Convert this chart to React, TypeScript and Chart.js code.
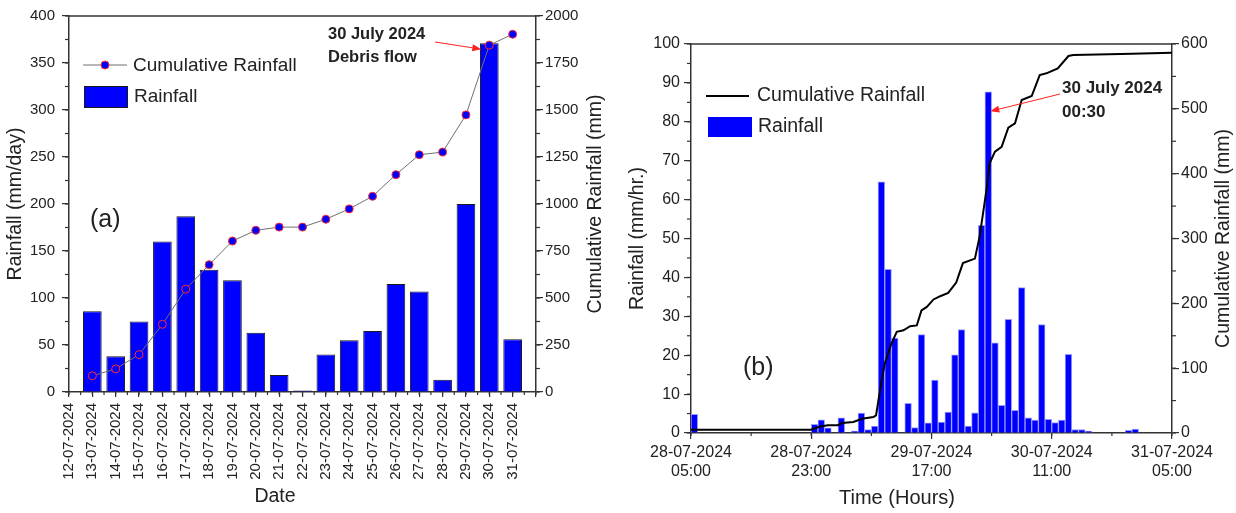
import React, { useEffect, useRef } from 'react';
import { Chart, registerables } from 'chart.js';

Chart.register(...registerables);

const FONT = '"Liberation Sans", Arial, Helvetica, sans-serif';
const TXT = '#222';
const AX = '#333';
const BLUE = '#0000ff';
Chart.defaults.font.family = FONT;
Chart.defaults.color = TXT;

// ---------------- Panel (a): daily rainfall ----------------
const dayNumbers = [13, 14, 15, 16, 17, 18, 19, 20, 21, 22, 23, 24, 25, 26, 27, 28, 29, 30, 31];
const dateTickLabels = [
  '12-07-2024', '13-07-2024', '14-07-2024', '15-07-2024', '16-07-2024', '17-07-2024', '18-07-2024',
  '19-07-2024', '20-07-2024', '21-07-2024', '22-07-2024', '23-07-2024', '24-07-2024', '25-07-2024',
  '26-07-2024', '27-07-2024', '28-07-2024', '29-07-2024', '30-07-2024', '31-07-2024',
];
const dailyRainfall = [86, 38, 75, 160, 187, 130, 119, 63, 18, 1.5, 40, 55, 65, 115, 107, 13, 200, 371, 56];
const dailyCumulative = [86, 123, 199, 360, 547, 677, 803, 860, 877, 877, 919, 974, 1041, 1156, 1262, 1276, 1474, 1845, 1903];

// ---------------- Panel (b): hourly rainfall ----------------
// hours counted from 28-07-2024 05:00
const hourIndex = [0, 18, 19, 20, 22, 24, 25, 26, 27, 28, 29, 30, 32, 33, 34, 35, 36, 37, 38, 39, 40, 41, 42, 43,
  44, 45, 46, 47, 48, 49, 50, 51, 52, 53, 54, 55, 56, 57, 58, 59, 65, 66];
const hourlyRainfall = [4.8, 2.2, 3.4, 1.3, 3.9, 0.5, 5.1, 0.9, 1.8, 64.6, 42.1, 24.4, 7.6, 1.4, 25.3, 2.6, 13.6, 2.8,
  5.4, 20.1, 26.6, 1.8, 5.2, 53.4, 87.7, 23.2, 7.1, 29.2, 5.8, 37.4, 3.9, 3.3, 27.9, 3.5, 2.7, 3.3, 20.2, 0.9, 0.9,
  0.4, 0.7, 1.0];
const cumulativeHours = [0, 18, 19.3, 20.5, 22, 22.6, 24.3, 25.6, 27.3, 27.7, 28.3, 29, 30, 30.8, 31.8, 32.8, 33.8,
  34.5, 35.3, 36.3, 37.3, 38.5, 39.7, 40.7, 42.5, 43.2, 44.3, 44.7, 45.5, 46.5, 47.5, 48.5, 49.5, 51, 52.2, 53.2,
  54.9, 56.5, 57.2, 59, 66, 72];
const hourlyCumulative = [5.2, 5.2, 10, 12, 12, 15.4, 17, 22, 24.7, 27.3, 66, 107, 138, 156, 158.5, 164.7, 166, 189,
  194.5, 206, 211, 216, 232, 262, 269, 302.6, 380, 416, 434, 441.5, 471, 477.6, 513.6, 519.8, 552, 554.8, 562.5,
  581.5, 583, 583.5, 585, 586.6];
const timeTickLabels = [
  ['28-07-2024', '05:00'],
  ['28-07-2024', '23:00'],
  ['29-07-2024', '17:00'],
  ['30-07-2024', '11:00'],
  ['31-07-2024', '05:00'],
];

// ---------------- drawing helpers ----------------
function drawText(ctx: CanvasRenderingContext2D, s: string, x: number, y: number, size: number,
  opts: { bold?: boolean; align?: CanvasTextAlign; rot?: number } = {}) {
  ctx.save();
  ctx.font = `${opts.bold ? 'bold ' : ''}${size}px ${FONT}`;
  ctx.fillStyle = TXT;
  ctx.textAlign = opts.align ?? 'left';
  ctx.textBaseline = 'middle';
  ctx.translate(x, y);
  if (opts.rot) ctx.rotate(opts.rot);
  ctx.fillText(s, 0, 0);
  ctx.restore();
}

function drawMinor(chart: any, id: string, step: number, len: number) {
  const s = chart.scales[id];
  const ctx = chart.ctx as CanvasRenderingContext2D;
  ctx.save();
  ctx.strokeStyle = AX;
  ctx.lineWidth = 1.2;
  for (let v = s.min; v <= s.max + 1e-9; v += step) {
    const p = s.getPixelForValue(v);
    ctx.beginPath();
    if (s.position === 'left') { ctx.moveTo(s.right, p); ctx.lineTo(s.right - len, p); }
    else if (s.position === 'right') { ctx.moveTo(s.left, p); ctx.lineTo(s.left + len, p); }
    else { ctx.moveTo(p, s.top); ctx.lineTo(p, s.top + len); }
    ctx.stroke();
  }
  ctx.restore();
}

function drawTopBorder(chart: any) {
  const ctx = chart.ctx as CanvasRenderingContext2D;
  const ca = chart.chartArea;
  ctx.save();
  ctx.strokeStyle = AX;
  ctx.lineWidth = 1.5;
  ctx.beginPath();
  ctx.moveTo(ca.left, ca.top);
  ctx.lineTo(ca.right, ca.top);
  ctx.stroke();
  ctx.restore();
}

function drawArrow(ctx: CanvasRenderingContext2D, x1: number, y1: number, x2: number, y2: number) {
  const ang = Math.atan2(y2 - y1, x2 - x1);
  const hl = 9, hw = 3.5;
  ctx.save();
  ctx.strokeStyle = '#ff2020';
  ctx.fillStyle = '#ff2020';
  ctx.lineWidth = 1;
  ctx.beginPath();
  ctx.moveTo(x1, y1);
  ctx.lineTo(x2 - hl * Math.cos(ang), y2 - hl * Math.sin(ang));
  ctx.stroke();
  ctx.beginPath();
  ctx.moveTo(x2, y2);
  ctx.lineTo(x2 - hl * Math.cos(ang) + hw * Math.sin(ang), y2 - hl * Math.sin(ang) - hw * Math.cos(ang));
  ctx.lineTo(x2 - hl * Math.cos(ang) - hw * Math.sin(ang), y2 - hl * Math.sin(ang) + hw * Math.cos(ang));
  ctx.closePath();
  ctx.fill();
  ctx.restore();
}

const plainNumber = (v: any) => String(v);

const decorA = {
  id: 'decorA',
  afterDraw(chart: any) {
    const ctx = chart.ctx as CanvasRenderingContext2D;
    const ca = chart.chartArea;
    drawTopBorder(chart);
    drawMinor(chart, 'x', 0.5, 3);
    drawMinor(chart, 'y', 25, 4);
    drawMinor(chart, 'y1', 125, 4);

    // legend
    const lineDs = chart.data.datasets[0];
    const barDs = chart.data.datasets[1];
    const ly = ca.top + 49;
    ctx.save();
    ctx.strokeStyle = lineDs.borderColor;
    ctx.lineWidth = 1;
    ctx.beginPath();
    ctx.moveTo(ca.left + 14, ly);
    ctx.lineTo(ca.left + 58, ly);
    ctx.stroke();
    ctx.beginPath();
    ctx.arc(ca.left + 36, ly, 4, 0, Math.PI * 2);
    ctx.fillStyle = lineDs.pointBackgroundColor;
    ctx.fill();
    ctx.strokeStyle = lineDs.pointBorderColor;
    ctx.stroke();
    ctx.fillStyle = barDs.backgroundColor;
    ctx.fillRect(ca.left + 15, ca.top + 70, 44, 22);
    ctx.strokeStyle = barDs.borderColor;
    ctx.strokeRect(ca.left + 15.5, ca.top + 70.5, 43, 21);
    ctx.restore();
    drawText(ctx, lineDs.label, ca.left + 64, ly + 1, 19);
    drawText(ctx, barDs.label, ca.left + 65, ca.top + 81, 19);

    drawText(ctx, '(a)', ca.left + 21, ca.top + 204, 25);

    // axis titles
    drawText(ctx, 'Rainfall (mm/day)', 16, (ca.top + ca.bottom) / 2, 19.5, { align: 'center', rot: -Math.PI / 2 });
    drawText(ctx, 'Cumulative Rainfall (mm)', 596, (ca.top + ca.bottom) / 2, 19.5, { align: 'center', rot: -Math.PI / 2 });
    drawText(ctx, 'Date', 275, 497, 19.5, { align: 'center' });

    // annotation
    drawText(ctx, '30 July 2024', ca.left + 259, ca.top + 18, 16.5, { bold: true });
    drawText(ctx, 'Debris flow', ca.left + 259, ca.top + 41, 16.5, { bold: true });
    const xs = chart.scales.x, ys = chart.scales.y1;
    const i = dayNumbers.indexOf(30);
    const px = xs.getPixelForValue(dayNumbers[i]);
    const py = ys.getPixelForValue(dailyCumulative[i]);
    drawArrow(ctx, ca.left + 366, ca.top + 26, px - 8, py + 4);
  },
};

const decorB = {
  id: 'decorB',
  afterDraw(chart: any) {
    const ctx = chart.ctx as CanvasRenderingContext2D;
    const ca = chart.chartArea;
    drawTopBorder(chart);
    drawMinor(chart, 'x', 9, 3);
    drawMinor(chart, 'y', 5, 4);
    drawMinor(chart, 'y1', 50, 4);

    const lineDs = chart.data.datasets[0];
    const barDs = chart.data.datasets[1];
    const ly = ca.top + 52;
    ctx.save();
    ctx.strokeStyle = lineDs.borderColor;
    ctx.lineWidth = 2;
    ctx.beginPath();
    ctx.moveTo(ca.left + 15, ly);
    ctx.lineTo(ca.left + 58, ly);
    ctx.stroke();
    ctx.fillStyle = barDs.backgroundColor;
    ctx.fillRect(ca.left + 17, ca.top + 73, 44, 20);
    ctx.restore();
    drawText(ctx, lineDs.label, ca.left + 66, ly, 19.5);
    drawText(ctx, barDs.label, ca.left + 67, ca.top + 83, 19.5);

    drawText(ctx, '(b)', ca.left + 52, 368, 25);

    drawText(ctx, 'Rainfall (mm/hr.)', 20, (ca.top + ca.bottom) / 2, 19.5, { align: 'center', rot: -Math.PI / 2 });
    drawText(ctx, 'Cumulative Rainfall (mm)', 606, (ca.top + ca.bottom) / 2, 19.5, { align: 'center', rot: -Math.PI / 2 });
    drawText(ctx, 'Time (Hours)', 279, 498, 20, { align: 'center' });

    drawText(ctx, '30 July 2024', ca.left + 371, ca.top + 44, 17, { bold: true });
    drawText(ctx, '00:30', ca.left + 371, ca.top + 68.5, 17, { bold: true });
    const xs = chart.scales.x, ys = chart.scales.y;
    const k = hourlyRainfall.indexOf(Math.max(...hourlyRainfall));
    const px = xs.getPixelForValue(hourIndex[k] + 0.5);
    const py = ys.getPixelForValue(hourlyRainfall[k] - 5);
    drawArrow(ctx, ca.left + 369, ca.top + 50, px + 2, py);
  },
};

function PanelA() {
  const ref = useRef<HTMLCanvasElement>(null);
  useEffect(() => {
    const chart = new Chart(ref.current!, {
      type: 'bar',
      data: {
        datasets: [
          {
            type: 'line',
            label: 'Cumulative Rainfall',
            data: dayNumbers.map((d, i) => ({ x: d, y: dailyCumulative[i] })),
            yAxisID: 'y1',
            borderColor: '#707070',
            borderWidth: 1,
            pointRadius: 4,
            pointBackgroundColor: BLUE,
            pointBorderColor: '#ff2a2a',
            pointBorderWidth: 1,
            tension: 0,
            order: 0,
          } as any,
          {
            type: 'bar',
            label: 'Rainfall',
            data: dayNumbers.map((d, i) => ({ x: d, y: dailyRainfall[i] })),
            yAxisID: 'y',
            backgroundColor: BLUE,
            borderColor: '#1a1a1a',
            borderWidth: 1,
            barPercentage: 0.8,
            categoryPercentage: 1,
            order: 1,
          } as any,
        ],
      },
      options: {
        responsive: false,
        animation: false,
        layout: { padding: { top: 14, left: 0, right: 0, bottom: 0 } },
        plugins: { legend: { display: false }, tooltip: { enabled: false } },
        scales: {
          x: {
            type: 'linear',
            min: 12,
            max: 32,
            offset: false,
            grid: { drawOnChartArea: false, offset: false, tickLength: 5, color: AX, lineWidth: 1.2 },
            border: { color: AX, width: 1.5 },
            ticks: {
              stepSize: 1,
              autoSkip: false,
              minRotation: 90,
              maxRotation: 90,
              padding: 6,
              font: { size: 15 },
              color: TXT,
              callback: (v: any) => dateTickLabels[Math.round(v) - 12] ?? '',
            },
            afterFit: (s: any) => { s.height = 121; },
          },
          y: {
            position: 'left',
            min: 0,
            max: 400,
            grid: { drawOnChartArea: false, tickLength: 7, color: AX, lineWidth: 1.2 },
            border: { color: AX, width: 1.5 },
            ticks: { stepSize: 50, padding: 7, font: { size: 15 }, color: TXT, callback: plainNumber },
            afterFit: (s: any) => { s.width = 69; },
          },
          y1: {
            position: 'right',
            min: 0,
            max: 2000,
            grid: { drawOnChartArea: false, tickLength: 7, color: AX, lineWidth: 1.2 },
            border: { color: AX, width: 1.5 },
            ticks: { stepSize: 250, padding: 2, font: { size: 15 }, color: TXT, callback: plainNumber },
            afterFit: (s: any) => { s.width = 82; },
          },
        },
      } as any,
      plugins: [decorA],
    });
    return () => chart.destroy();
  }, []);
  return (
    <canvas ref={ref} width={618} height={513}
      style={{ position: 'absolute', left: 0, top: 0, width: 618, height: 513 }} />
  );
}

function PanelB() {
  const ref = useRef<HTMLCanvasElement>(null);
  useEffect(() => {
    const chart = new Chart(ref.current!, {
      type: 'bar',
      data: {
        datasets: [
          {
            type: 'line',
            label: 'Cumulative Rainfall',
            data: cumulativeHours.map((h, i) => ({ x: h, y: hourlyCumulative[i] })),
            yAxisID: 'y1',
            borderColor: '#000000',
            borderWidth: 2,
            pointRadius: 0,
            tension: 0,
            order: 0,
          } as any,
          {
            type: 'bar',
            label: 'Rainfall',
            data: hourIndex.map((h, i) => ({ x: h + 0.5, y: hourlyRainfall[i] })),
            yAxisID: 'y',
            backgroundColor: BLUE,
            borderColor: '#9a9aff',
            borderWidth: 1,
            barPercentage: 1,
            categoryPercentage: 1,
            order: 1,
          } as any,
        ],
      },
      options: {
        responsive: false,
        animation: false,
        layout: { padding: { top: 44, left: 0, right: 0, bottom: 0 } },
        plugins: { legend: { display: false }, tooltip: { enabled: false } },
        scales: {
          x: {
            type: 'linear',
            min: 0,
            max: 72,
            offset: false,
            grid: { drawOnChartArea: false, offset: false, tickLength: 6, color: AX, lineWidth: 1.2 },
            border: { color: AX, width: 1.5 },
            ticks: {
              stepSize: 18,
              autoSkip: false,
              maxRotation: 0,
              padding: 4,
              font: { size: 16 },
              color: TXT,
              callback: (v: any) => timeTickLabels[Math.round(v / 18)] ?? '',
            },
            afterFit: (s: any) => { s.height = 80; },
          },
          y: {
            position: 'left',
            min: 0,
            max: 100,
            grid: { drawOnChartArea: false, tickLength: 7, color: AX, lineWidth: 1.2 },
            border: { color: AX, width: 1.5 },
            ticks: { stepSize: 10, padding: 4, font: { size: 16 }, color: TXT, callback: plainNumber },
            afterFit: (s: any) => { s.width = 73; },
          },
          y1: {
            position: 'right',
            min: 0,
            max: 600,
            grid: { drawOnChartArea: false, tickLength: 7, color: AX, lineWidth: 1.2 },
            border: { color: AX, width: 1.5 },
            ticks: { stepSize: 100, padding: 2, font: { size: 16 }, color: TXT, callback: plainNumber },
            afterFit: (s: any) => { s.width = 64; },
          },
        },
      } as any,
      plugins: [decorB],
    });
    return () => chart.destroy();
  }, []);
  return (
    <canvas ref={ref} width={618} height={513}
      style={{ position: 'absolute', left: 618, top: 0, width: 618, height: 513 }} />
  );
}

export default function App() {
  return (
    <div style={{ position: 'absolute', left: 0, top: 0, width: 1236, height: 513, background: '#ffffff', overflow: 'hidden' }}>
      <PanelA />
      <PanelB />
    </div>
  );
}
